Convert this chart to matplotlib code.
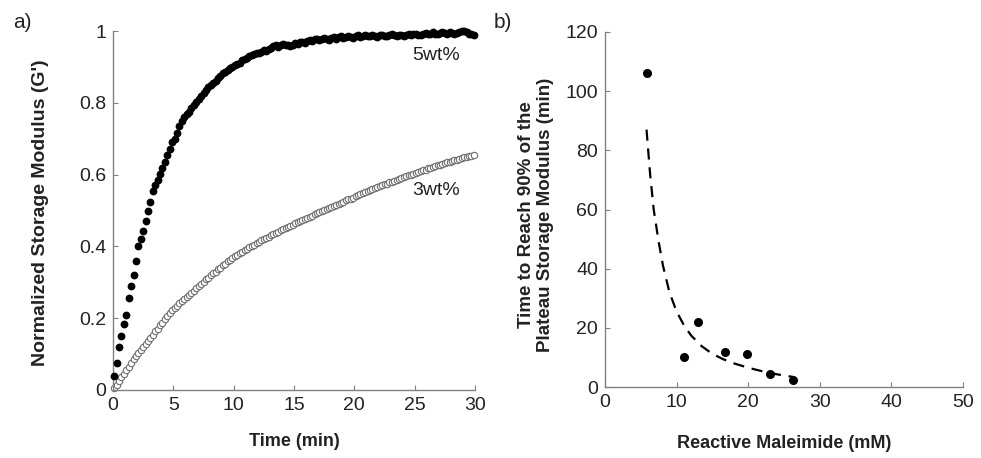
import numpy as np
import matplotlib
matplotlib.use("Agg")
from matplotlib import pyplot as plt

plt.rcParams['font.family'] = ['Liberation Sans', 'DejaVu Sans']

# panel a: normalized G' vs time, sampled every 0.2 min
time_min = np.round(np.arange(0.1, 30.0, 0.2), 2)
g_5wt = [.04, .075, .12, .15, .185, .21, .255, .29, .32, .36,
         .40, .42, .443, .47, .50, .525, .553, .57, .585, .603,
         .617, .635, .655, .67, .69, .70, .715, .735, .748, .76,
         .768, .775, .785, .795, .802, .81, .818, .827, .835, .845,
         .85, .855, .862, .868, .876, .882, .887, .892, .898, .900,
         .905, .908, .91, .918, .922, .926, .93, .932, .936, .94,
         .938, .942, .946, .944, .95, .953, .958, .96, .956, .962,
         .965, .962, .96, .957, .962, .966, .963, .968, .97, .967,
         .972, .975, .973, .977, .979, .976, .978, .981, .978, .976,
         .98, .983, .978, .982, .985, .98, .983, .986, .984, .981,
         .985, .988, .983, .986, .989, .985, .987, .99, .986, .984,
         .988, .99, .987, .985, .988, .991, .988, .986, .989, .99,
         .987, .99, .992, .989, .991, .993, .99, .988, .991, .994,
         .991, .993, .996, .993, .991, .994, .997, .994, .992, .996,
         .994, .991, .995, .997, .999, 1.0, .997, .993, .991, .989]
g_3wt = [.005, .015, .025, .035, .045, .055, .065, .075, .085, .094,
         .103, .111, .12, .128, .137, .145, .154, .163, .171, .18,
         .188, .197, .205, .214, .222, .229, .235, .241, .247, .253,
         .259, .265, .271, .277, .283, .29, .296, .302, .308, .313,
         .319, .325, .33, .336, .341, .347, .352, .358, .363, .368,
         .373, .377, .381, .385, .389, .393, .397, .401, .405, .409,
         .413, .417, .42, .424, .427, .431, .434, .438, .441, .445,
         .448, .451, .455, .458, .461, .464, .468, .471, .474, .477,
         .48, .483, .486, .489, .492, .495, .498, .501, .504, .507,
         .51, .513, .516, .519, .522, .525, .528, .531, .533, .536,
         .539, .542, .545, .548, .551, .553, .556, .559, .562, .565,
         .567, .57, .573, .575, .578, .58, .583, .585, .588, .59,
         .593, .595, .598, .6, .603, .605, .607, .61, .612, .614,
         .617, .619, .621, .623, .626, .628, .63, .632, .634, .636,
         .638, .64, .642, .644, .646, .648, .65, .651, .653, .655]

# panel b: time to 90% plateau vs reactive maleimide
maleimide_mm = [5.8, 11.0, 13.0, 16.8, 19.8, 23.0, 26.2]
t90_min = [106, 10, 22, 12, 11, 4.5, 2.5]
fit_x = [5.8, 6.3, 6.8, 7.5, 8.1, 9.0, 10.0, 11.0, 12.0, 13.5, 15.0, 16.5,
         18.0, 20.0, 22.0, 24.0, 26.3]
fit_y = [87, 72, 60, 49, 41, 32, 25.5, 21, 17.5, 13.8, 11.2, 9.4,
         8.0, 6.5, 5.3, 4.3, 3.4]

TXT = '#222222'
SPINE = '#808080'

fig = plt.figure(figsize=(9.81, 4.58), dpi=100)
ax1 = fig.add_axes([113 / 981, 68 / 458, 362 / 981, 359 / 458])
ax2 = fig.add_axes([605 / 981, 71 / 458, 358 / 981, 355 / 458])

for ax in (ax1, ax2):
    for s in ('top', 'right'):
        ax.spines[s].set_visible(False)
    for s in ('left', 'bottom'):
        ax.spines[s].set_color(SPINE)
        ax.spines[s].set_linewidth(1.0)
    ax.tick_params(direction='in', length=3.5, color=SPINE, labelsize=14,
                   labelcolor=TXT, pad=5)

ax1.plot(time_min, g_3wt, 'o', ms=4.6, mfc='white', mec='#6e6e6e', mew=0.8,
         clip_on=False, zorder=2)
ax1.plot(time_min, g_5wt, 'o', ms=4.6, color='black', clip_on=False, zorder=3)
ax1.set_xlim(0, 30)
ax1.set_ylim(0, 1)
ax1.set_xticks([0, 5, 10, 15, 20, 25, 30])
ax1.set_yticks([0, 0.2, 0.4, 0.6, 0.8, 1])
ax1.set_yticklabels(['0', '0.2', '0.4', '0.6', '0.8', '1'])
ax1.text(26.8, 0.932, '5wt%', fontsize=14, color=TXT, ha='center', va='center')
ax1.text(26.8, 0.557, '3wt%', fontsize=14, color=TXT, ha='center', va='center')

ax2.plot(fit_x, fit_y, '--', color='black', lw=1.6, dashes=(5, 3.5))
ax2.plot(maleimide_mm, t90_min, 'o', ms=5.5, color='black', clip_on=False)
ax2.set_xlim(0, 50)
ax2.set_ylim(0, 120)
ax2.set_xticks([0, 10, 20, 30, 40, 50])
ax2.set_yticks([0, 20, 40, 60, 80, 100, 120])

fig.text(41 / 981, 1 - 213 / 458, "Normalized Storage Modulus (G')", rotation=90,
         ha='center', va='center', fontsize=14, fontweight='bold', color=TXT)
fig.text(294 / 981, 1 - 442 / 458, 'Time (min)', ha='center', va='center',
         fontsize=13, fontweight='bold', color=TXT)
fig.text(536 / 981, 1 - 215 / 458, 'Time to Reach 90% of the\nPlateau Storage Modulus (min)',
         rotation=90, ha='center', va='center', fontsize=13.5, fontweight='bold',
         color=TXT, linespacing=1.2)
fig.text(784 / 981, 1 - 443 / 458, 'Reactive Maleimide (mM)', ha='center', va='center',
         fontsize=13, fontweight='bold', color=TXT)
fig.text(22 / 981, 1 - 22 / 458, 'a)', ha='center', va='center', fontsize=15, color=TXT)
fig.text(503 / 981, 1 - 22 / 458, 'b)', ha='center', va='center', fontsize=15, color=TXT)

fig.savefig('out.png', dpi=100)
